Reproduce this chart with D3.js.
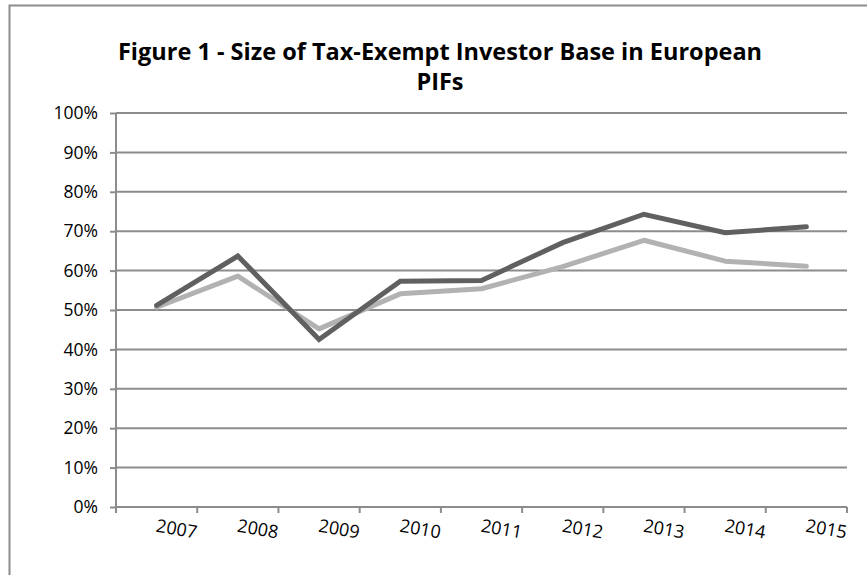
<!DOCTYPE html>
<html>
<head>
<meta charset="utf-8">
<title>Figure 1</title>
<script src="https://d3js.org/d3.v7.min.js"></script>
<style>
  body { margin: 0; background: #fff; }
  svg { display: block; font-family: "Open Sans", "Noto Sans", sans-serif; }
</style>
</head>
<body>
<div id="chart"></div>
<script>
// data
const years = ["2007", "2008", "2009", "2010", "2011", "2012", "2013", "2014", "2015"];
const seriesDark = [0.512, 0.637, 0.425, 0.573, 0.575, 0.671, 0.743, 0.696, 0.711];
const seriesLight = [0.507, 0.586, 0.452, 0.541, 0.554, 0.610, 0.677, 0.624, 0.611];
const yTicks = [0, 0.1, 0.2, 0.3, 0.4, 0.5, 0.6, 0.7, 0.8, 0.9, 1.0];

const W = 867, H = 575;
const margin = {top: 113, right: 20, bottom: 68, left: 116};
const w = 847 - margin.left;
const h = 507 - margin.top;

const svg = d3.select("#chart").append("svg")
    .attr("width", W).attr("height", H);

// outer frame (cropped on right and bottom)
svg.append("rect")
    .attr("x", 9.5).attr("y", 5.5)
    .attr("width", 900).attr("height", 600)
    .attr("fill", "none").attr("stroke", "#8c8c8c").attr("stroke-width", 2);

// title
const title = svg.append("text")
    .attr("text-anchor", "middle")
    .attr("font-weight", "bold")
    .attr("font-size", "23.5px")
    .attr("fill", "#000");
title.append("tspan").attr("x", 440).attr("y", 60).text("Figure 1 - Size of Tax-Exempt Investor Base in European");
title.append("tspan").attr("x", 440).attr("y", 90).text("PIFs");

const g = svg.append("g")
    .attr("transform", "translate(" + margin.left + "," + margin.top + ")");

const x = d3.scaleBand().domain(years).range([0, w]);
const y = d3.scaleLinear().domain([0, 1]).range([h, 0]);

// gridlines
g.selectAll("line.grid")
    .data(yTicks.slice(1))
    .enter().append("line")
    .attr("class", "grid")
    .attr("x1", 0).attr("x2", w)
    .attr("y1", d => y(d)).attr("y2", d => y(d))
    .attr("stroke", "#8c8c8c").attr("stroke-width", 2);

// y axis
const yAxis = d3.axisLeft(y)
    .tickValues(yTicks)
    .tickFormat(d3.format(".0%"))
    .tickSize(6)
    .tickPadding(12);
const ya = g.append("g").call(yAxis);
ya.select(".domain").attr("stroke", "#8c8c8c").attr("stroke-width", 2).attr("d", "M0," + h + "V0");
ya.selectAll(".tick line").attr("stroke", "#8c8c8c").attr("stroke-width", 2);
ya.selectAll(".tick text").attr("font-size", "17.5px").attr("fill", "#000")
    .attr("font-family", "Open Sans, sans-serif");

// x axis
const xa = g.append("g").attr("transform", "translate(0," + h + ")");
xa.append("line").attr("x1", 0).attr("x2", w).attr("stroke", "#8c8c8c").attr("stroke-width", 2);
const edges = years.map((d, i) => x(d)).concat([w]);
xa.selectAll("line.tk")
    .data(edges)
    .enter().append("line")
    .attr("class", "tk")
    .attr("x1", d => d).attr("x2", d => d)
    .attr("y1", 0).attr("y2", 6)
    .attr("stroke", "#8c8c8c").attr("stroke-width", 2);
xa.selectAll("text.lbl")
    .data(years)
    .enter().append("text")
    .attr("class", "lbl")
    .attr("text-anchor", "middle")
    .attr("font-size", "18px")
    .attr("fill", "#000")
    .attr("transform", d => "translate(" + (x(d) + x.bandwidth() / 2 + 19) + ",28) rotate(10)")
    .text(d => d);

// lines
const line = d3.line()
    .x((d, i) => x(years[i]) + x.bandwidth() / 2)
    .y(d => y(d));

g.append("path")
    .datum(seriesLight)
    .attr("fill", "none")
    .attr("stroke", "#b2b2b2")
    .attr("stroke-width", 5)
    .attr("stroke-linejoin", "round")
    .attr("stroke-linecap", "round")
    .attr("d", line);

g.append("path")
    .datum(seriesDark)
    .attr("fill", "none")
    .attr("stroke", "#606060")
    .attr("stroke-width", 5)
    .attr("stroke-linejoin", "miter")
    .attr("stroke-linecap", "round")
    .attr("d", line);
</script>
</body>
</html>
